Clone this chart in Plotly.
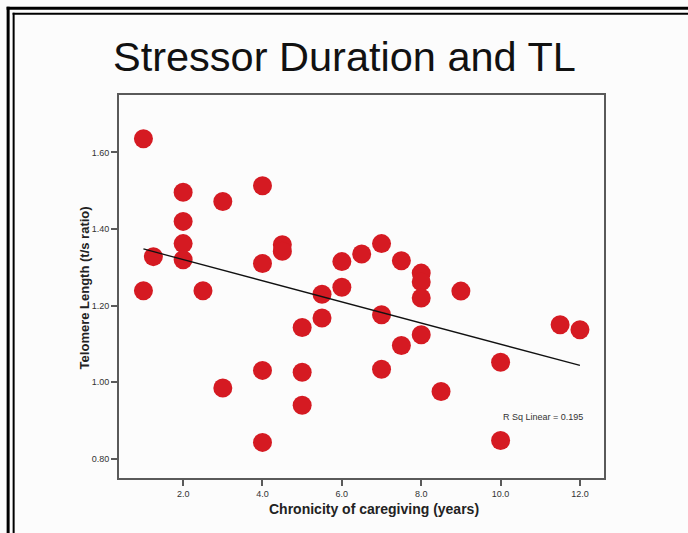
import plotly.graph_objects as go

# ---- data ----
chronicity_years = [1.0, 1.0, 1.25, 2.0, 2.0, 2.0, 2.0, 2.5, 3.0, 3.0,
                    4.0, 4.0, 4.0, 4.0, 4.5, 4.5, 5.0, 5.0, 5.0, 5.5,
                    5.5, 6.0, 6.0, 6.5, 7.0, 7.0, 7.0, 7.5, 7.5, 8.0,
                    8.0, 8.0, 8.0, 8.5, 9.0, 10.0, 10.0, 11.5, 12.0]
telomere_length = [1.636, 1.239, 1.328, 1.496, 1.420, 1.362, 1.320, 1.239, 1.472, 0.985,
                   1.513, 1.310, 1.031, 0.843, 1.359, 1.342, 1.143, 1.026, 0.940, 1.230,
                   1.168, 1.315, 1.248, 1.335, 1.362, 1.176, 1.034, 1.317, 1.096, 1.285,
                   1.262, 1.220, 1.124, 0.976, 1.238, 1.052, 0.848, 1.150, 1.137]
fit_x = [1.0, 12.0]
fit_y = [1.348, 1.044]
x_ticks = [2, 4, 6, 8, 10, 12]
x_tick_labels = ["2.0", "4.0", "6.0", "8.0", "10.0", "12.0"]
y_ticks = [0.8, 1.0, 1.2, 1.4, 1.6]
y_tick_labels = ["0.80", "1.00", "1.20", "1.40", "1.60"]
title_text = "Stressor Duration and TL"
x_title = "Chronicity of caregiving (years)"
y_title = "Telomere Length (t/s ratio)"
r2_text = "R Sq Linear = 0.195"

# ---- layout geometry (pixels) ----
W, H = 688, 533
PL, PR, PT, PB = 119.3, 604.0, 95.3, 478.3
pw, ph = PR - PL, PB - PT


def px(xp):
    return (xp - PL) / pw


def py(yp):
    return (PB - yp) / ph


fig = go.Figure()
fig.add_trace(go.Scatter(
    x=chronicity_years, y=telomere_length, mode="markers",
    marker=dict(size=19, color="#d51a22", line=dict(width=0)),
    showlegend=False, hoverinfo="x+y"))
fig.add_trace(go.Scatter(
    x=fit_x, y=fit_y, mode="lines",
    line=dict(color="#111111", width=1.3),
    showlegend=False, hoverinfo="skip"))

axis_common = dict(
    showgrid=False, zeroline=False, showline=True, mirror=True,
    linecolor="#5a5a5a", linewidth=2, ticks="outside", ticklen=6,
    tickwidth=1.5, tickcolor="#5a5a5a",
    tickfont=dict(family="Liberation Sans, Arial", size=9, color="#333333"))

fig.update_xaxes(range=[0.384, 12.606], tickvals=x_ticks, ticktext=x_tick_labels,
                 **axis_common)
fig.update_yaxes(range=[0.75, 1.75], tickvals=y_ticks, ticktext=y_tick_labels,
                 **axis_common)

annotations = [
    dict(text=title_text, x=px(345), y=py(57), xref="paper", yref="paper",
         showarrow=False, xanchor="center", yanchor="middle",
         font=dict(family="Liberation Sans, Arial", size=41.5, color="#111111")),
    dict(text="<b>" + x_title + "</b>", x=px(374), y=py(509), xref="paper", yref="paper",
         showarrow=False, xanchor="center", yanchor="middle",
         font=dict(family="Liberation Sans, Arial", size=14, color="#222222")),
    dict(text="<b>" + y_title + "</b>", x=px(85), y=py(288), xref="paper", yref="paper",
         showarrow=False, xanchor="center", yanchor="middle", textangle=-90,
         font=dict(family="Liberation Sans, Arial", size=13, color="#222222")),
    dict(text=r2_text, x=11.08, y=0.910, xref="x", yref="y",
         showarrow=False, xanchor="center", yanchor="middle",
         font=dict(family="Liberation Sans, Arial", size=9, color="#333333")),
]

shapes = [
    # outer frame (thick): top and left edges
    dict(type="line", xref="paper", yref="paper", x0=px(7), y0=py(8.5), x1=px(700), y1=py(8.5),
         line=dict(color="#000000", width=3), layer="above"),
    dict(type="line", xref="paper", yref="paper", x0=px(8.5), y0=py(7), x1=px(8.5), y1=py(560),
         line=dict(color="#000000", width=3), layer="above"),
    # inner frame line
    dict(type="line", xref="paper", yref="paper", x0=px(13), y0=py(14), x1=px(700), y1=py(14),
         line=dict(color="#000000", width=2), layer="above"),
    dict(type="line", xref="paper", yref="paper", x0=px(14), y0=py(13), x1=px(14), y1=py(560),
         line=dict(color="#000000", width=2), layer="above"),
]

fig.update_layout(
    width=W, height=H,
    margin=dict(l=PL, r=W - PR, t=PT, b=H - PB, pad=0),
    paper_bgcolor="#fcfcfc", plot_bgcolor="#fcfcfc",
    annotations=annotations, shapes=shapes,
    showlegend=False,
)

fig.write_html(
    "out.html",
    config={"displayModeBar": False},
    post_script="document.body.style.margin='0';document.body.style.overflow='hidden';",
)
